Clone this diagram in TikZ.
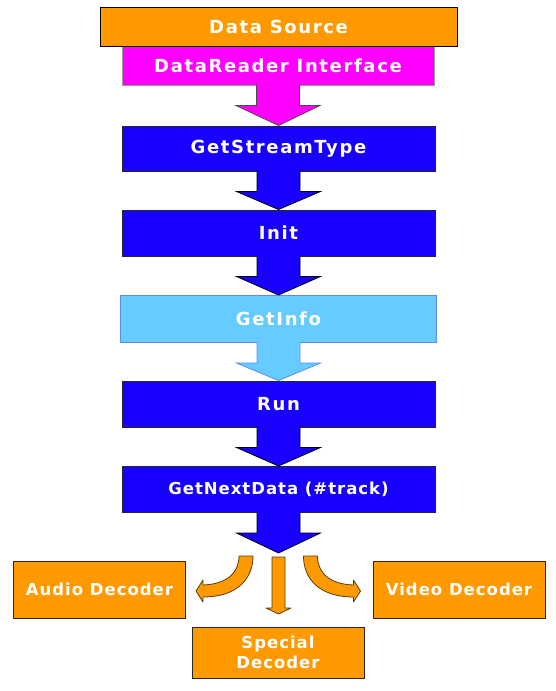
\documentclass[tikz,border=0pt]{standalone}
\usepackage{fontspec}
\setmainfont{DejaVu Sans}
\newfontfamily\wideboxfont[LetterSpace=9]{DejaVu Sans}
\newfontfamily\tightboxfont[LetterSpace=6]{DejaVu Sans}
\usepackage{tikz}
\usetikzlibrary{calc}
\usetikzlibrary{positioning}

\definecolor{srcorange}{HTML}{FF9900}
\definecolor{readermag}{HTML}{FF00FF}
\definecolor{stepblue}{HTML}{1800FF}
\definecolor{infoblue}{HTML}{66CCFF}
\definecolor{infoedge}{HTML}{5A8CF0}
\definecolor{arrowbrown}{HTML}{5A3C14}

% block arrow from the bottom of #1 to the point #2
\newcommand{\blockarrow}[3]{%
  \filldraw[#3] ($(#1.south)+(-21.5,-1)$) -- ($(#1.south)+(-21.5,20)$)
    -- ($(#1.south)+(-42,20)$) -- (#2) -- ($(#1.south)+(42,20)$)
    -- ($(#1.south)+(21.5,20)$) -- ($(#1.south)+(21.5,-1)$);
}

\begin{document}
\begin{tikzpicture}[x=1pt,y=-1pt,
    box/.style={draw=black!85, line width=1, text=white, inner sep=0,
      font=\wideboxfont\bfseries\fontsize{18}{21}\selectfont},
    stepbox/.style={box, fill=stepblue, minimum width=313, minimum height=46},
    decbox/.style={box, fill=srcorange, minimum width=172, minimum height=57,
      font=\tightboxfont\bfseries\fontsize{16.5}{20}\selectfont, align=center},
    darkhead/.style={fill=stepblue, draw=black, line width=0.8},
    orangehead/.style={fill=srcorange, draw=arrowbrown, line width=0.8, line join=round}]
    \useasboundingbox (0,0) rectangle (556,691);

    % boxes
    \node[box, fill=readermag, draw=black!40, minimum width=312, minimum height=39] (reader) at (278,65.5) {DataReader Interface};
    \node[box, fill=srcorange, draw=black, minimum width=357, minimum height=39] (source) at (278.5,27) {Data Source};
    \node[stepbox, minimum height=45] (streamtype) at (278.5,148.5) {GetStreamType};
    \node[stepbox] (init) at (278.5,233) {Init};
    \node[box, fill=infoblue, draw=infoedge, minimum width=316, minimum height=47] (info) at (278.5,319) {GetInfo};
    \node[stepbox] (run) at (278.5,404) {Run};
    \node[stepbox, font=\tightboxfont\bfseries\fontsize{16.5}{19}\selectfont] (nextdata) at (278.5,489.5) {GetNextData (\#track)};
    \coordinate (split) at (278.5,553);

    \node[decbox] (audio) at (99.5,589.5) {Audio Decoder};
    \node[decbox] (video) at (459,589.5) {Video Decoder};
    \node[decbox, minimum height=51] (special) at (278,652.5) {Special\\Decoder};

    % block arrows
    \blockarrow{reader}{streamtype.north}{fill=readermag, draw=black!70, line width=0.8}
    \blockarrow{streamtype}{init.north}{darkhead}
    \blockarrow{init}{info.north}{darkhead}
    \blockarrow{info}{run.north}{fill=infoblue, draw=infoedge, line width=0.8}
    \blockarrow{run}{nextdata.north}{darkhead}
    \blockarrow{nextdata}{split}{darkhead}

    % orange arrows
    \filldraw[orangehead] (239,556) -- (253,556) .. controls (253,578) and (238,597) .. (203,597)
        -- (203,602) -- (196,591) -- (203,580) -- (203,585)
        .. controls (228,584) and (239,572) .. (239,556) -- cycle;
    \filldraw[orangehead] (317.5,556) -- (303.5,556) .. controls (303.5,578) and (318.5,597) .. (353.5,597)
        -- (353.5,602) -- (360.5,591) -- (353.5,580) -- (353.5,585)
        .. controls (328.5,584) and (317.5,572) .. (317.5,556) -- cycle;
    \filldraw[orangehead] (272,557) -- (285,557) -- (285,608) -- (291,608) -- (278.5,614)
        -- (266,608) -- (272,608) -- cycle;
\end{tikzpicture}
\end{document}
